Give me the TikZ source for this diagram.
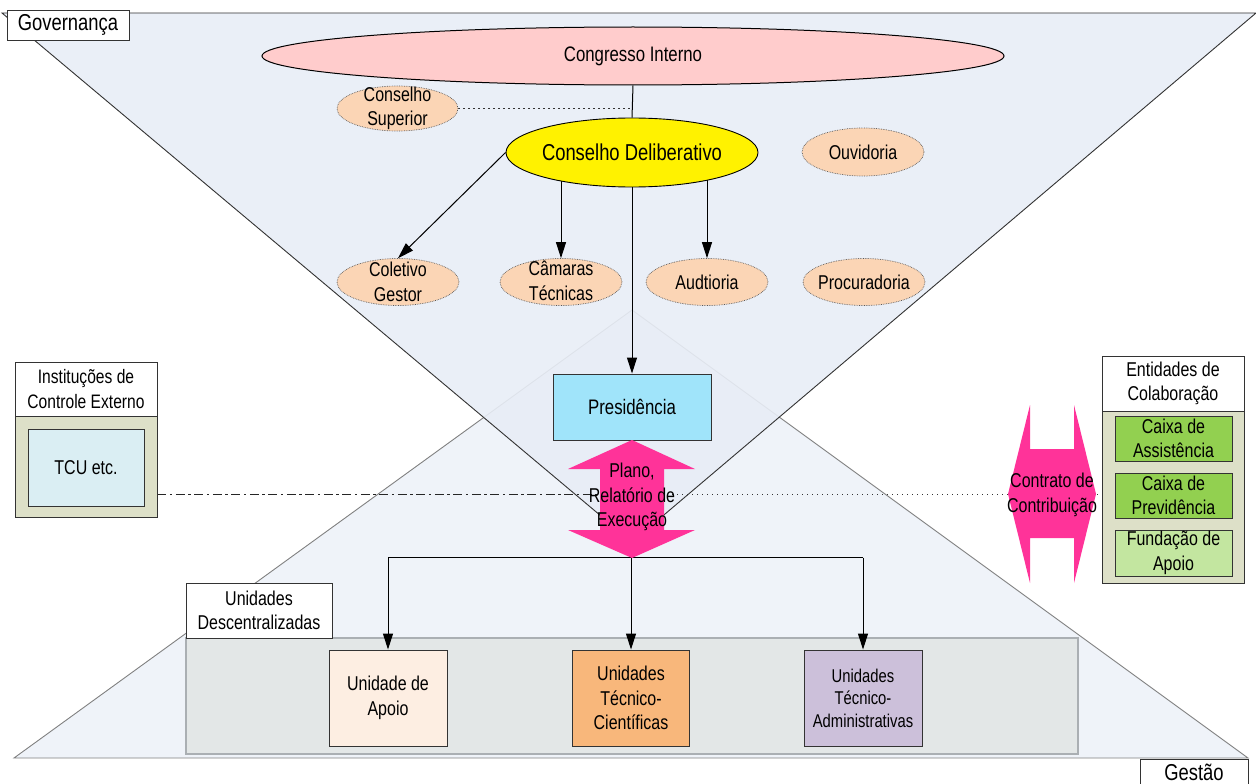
\documentclass[tikz,border=0pt]{standalone}
\usepackage{fontspec}
\setmainfont{Liberation Sans}[FakeStretch=0.8]
\usetikzlibrary{arrows.meta,shapes.geometric}
\definecolor{topfill}{HTML}{E8EDF6}
\definecolor{botfill}{HTML}{EFF3F9}
\definecolor{congpink}{HTML}{FFCCCC}
\definecolor{peach}{HTML}{FBD5B5}
\definecolor{presblue}{HTML}{A0E4FA}
\definecolor{hotpink}{HTML}{FF3399}
\definecolor{khaki}{HTML}{DDE0C8}
\definecolor{tcublue}{HTML}{DAEEF3}
\definecolor{greena}{HTML}{92D050}
\definecolor{greenb}{HTML}{C3E6A0}
\definecolor{udgray}{HTML}{E3E7E7}
\definecolor{udborder}{HTML}{AAAFB3}
\definecolor{uapfill}{HTML}{FDEEE2}
\definecolor{utcfill}{HTML}{F8B77B}
\definecolor{utafill}{HTML}{CCC0DA}
\pgfdeclarelayer{bg}
\pgfdeclarelayer{lines}
\pgfsetlayers{bg,lines,main}
\begin{document}
\begin{tikzpicture}[x=1pt,y=-1pt,
  txt/.style={font=\fontsize{20}{24.5}\selectfont, align=center, inner sep=0pt},
  bigtxt/.style={font=\fontsize{23}{27}\selectfont, align=center, inner sep=0pt},
  oval/.style={ellipse, draw=black!65, densely dotted, line width=0.7pt, fill=peach,
    minimum width=122pt, minimum height=47pt, inner sep=0pt},
  boxx/.style={rectangle, draw=black!80, line width=0.9pt, inner sep=0pt},
  arr/.style={-{Triangle[length=16pt,width=10pt]}, line width=1pt, black},
  plain/.style={line width=1pt, black},
  dotline/.style={line width=0.9pt, black!80, dash pattern=on 1.2pt off 3.8pt},
  dashdot/.style={line width=1pt, black!85, dash pattern=on 9pt off 3.5pt on 2.5pt off 3.5pt},
]
\useasboundingbox (0,0) rectangle (1256,784);
\clip (0,0) rectangle (1256,784);

\begin{pgfonlayer}{bg}
  \path[fill=botfill, draw=black!50, line width=0.9pt] (14,758) -- (1248,758) -- (632,310) -- cycle;
  \path[fill=topfill, fill opacity=0.9] (2,13) -- (1256,13) -- (632,542) -- cycle;
  \draw[black!80, line width=0.9pt] (2,13) -- (1256,13) -- (632,542) -- cycle;
  % Unidades descentralizadas region
  \node[rectangle, fill=udgray, draw=udborder, line width=1.5pt, minimum width=892pt, minimum height=116pt] (udreg) at (632,696) {};
  \node[boxx, fill=white, minimum width=146pt, minimum height=55pt, txt] (udlab) at (259,610.5) {Unidades\\Descentralizadas};
\end{pgfonlayer}

% Labels Governança / Gestão
\node[boxx, fill=white, minimum width=122pt, minimum height=30pt, bigtxt] (gov) at (68,25) {Governança};
\node[boxx, fill=white, minimum width=108pt, minimum height=36pt] (gest) at (1194,777) {};
\node[bigtxt] (gestt) at (1194,772) {Gestão};

% Top ellipses
\node[ellipse, draw=black, line width=1pt, fill=congpink, minimum width=742pt, minimum height=58pt, inner sep=0pt] (cong) at (633,56) {};
\node[txt, font=\fontsize{21}{25}\selectfont] (congt) at (cong) {Congresso Interno};

\node[oval, minimum width=121pt, minimum height=45pt] (cs) at (397.5,108.5) {};
\node[txt] (cst) at (cs) {Conselho\\Superior};

\node[ellipse, draw=black, line width=0.9pt, fill=yellow, minimum width=252pt, minimum height=69pt, inner sep=0pt] (cd) at (632,152.5) {};
\node[txt, font=\fontsize{23}{27}\selectfont] (cdt) at (cd) {Conselho Deliberativo};

\node[oval, minimum width=122pt, minimum height=48pt] (ouv) at (863,152) {};
\node[txt] (ouvt) at (ouv) {Ouvidoria};

\node[oval] (col) at (398,282) {};
\node[txt] (colt) at (col) {Coletivo\\Gestor};
\node[oval] (cam) at (561,282) {};
\node[txt] (camt) at (561,281) {Câmaras\\Técnicas};
\node[oval] (aud) at (707,282) {};
\node[txt] (audt) at (aud) {Audtioria};
\node[oval] (proc) at (864,282) {};
\node[txt] (proct) at (proc) {Procuradoria};

% Presidencia
\node[boxx, fill=presblue, minimum width=158pt, minimum height=66pt, font=\fontsize{21}{25}\selectfont] (pres) at (632,407) {Presidência};

% Instituicoes de controle externo
\node[boxx, fill=white, minimum width=142pt, minimum height=54pt, txt, font=\fontsize{19.5}{24.5}\selectfont] (iceh) at (86,389) {Instituções de\\Controle Externo};
\node[boxx, fill=khaki, minimum width=142pt, minimum height=101pt] (ice) at (86,466.5) {};
\node[boxx, fill=tcublue, minimum width=116pt, minimum height=77pt, txt] (tcu) at (86,467.5) {TCU etc.};

% Entidades de colaboracao
\node[boxx, fill=white, minimum width=142pt, minimum height=55pt, txt] (enth) at (1173,383.5) {Entidades de\\Colaboração};
\node[boxx, fill=khaki, minimum width=142pt, minimum height=172pt] (ent) at (1173,497) {};
\node[boxx, fill=greena, minimum width=117pt, minimum height=45pt, txt] (cxa) at (1173.5,438.5) {Caixa de\\Assistência};
\node[boxx, fill=greena, minimum width=117pt, minimum height=45pt, txt] (cxp) at (1173.5,495.5) {Caixa de\\Previdência};
\node[boxx, fill=greenb, minimum width=117pt, minimum height=46pt, txt] (fap) at (1173.5,553) {Fundação de\\Apoio};

% Unidades
\node[boxx, fill=uapfill, minimum width=118pt, minimum height=96pt, txt] (uap) at (388,698) {Unidade de\\Apoio};
\node[boxx, fill=utcfill, minimum width=117pt, minimum height=96pt, txt] (utc) at (631,698) {Unidades\\Técnico-\\Científicas};
\node[boxx, fill=utafill, minimum width=118pt, minimum height=96pt, txt, font=\fontsize{18.5}{22.5}\selectfont] (uta) at (863,698) {Unidades\\Técnico-\\Administrativas};

% Double arrows
\fill[hotpink] (632,440) -- (695,469) -- (664,469) -- (664,530) -- (695,530) -- (632,558) -- (568,530) -- (600,530) -- (600,469) -- (568,469) -- cycle;
\node[txt] (plano) at (632,497) {Plano,\\Relatório de\\Execução};
\coordinate (link) at (632,494);
\coordinate (plbot) at (632,557.5);

\fill[hotpink] (1008,494) -- (1030,405) -- (1030,449) -- (1074,449) -- (1074,405) -- (1096,494) -- (1074,583) -- (1074,538) -- (1030,538) -- (1030,583) -- cycle;
\node[txt] (contr) at (1052,495) {Contrato de\\Contribuição};

\begin{pgfonlayer}{lines}
  \draw[plain] (cong.south) -- (cd.north);
  \draw[dotline] (cs.east) -- (cs.east -| cong.south);
  \draw[arr] (cd.west) -- (col.north);
  \draw[arr] (cam.north |- cd.center) -- (cam.north);
  \draw[arr] (aud.north |- cd.center) -- (aud.north);
  \draw[arr] (cd.south) -- (pres.north);
  \draw[dashdot] (ice.east |- link) -- (link);
  \draw[dotline] (link) -- (ent.west |- link);
  \draw[plain] (uap.north |- plbot) -- (uta.north |- plbot);
  \draw[arr] (uap.north |- plbot) -- (uap.north);
  \draw[arr] (utc.north |- plbot) -- (utc.north);
  \draw[arr] (uta.north |- plbot) -- (uta.north);
\end{pgfonlayer}
\end{tikzpicture}
\end{document}
